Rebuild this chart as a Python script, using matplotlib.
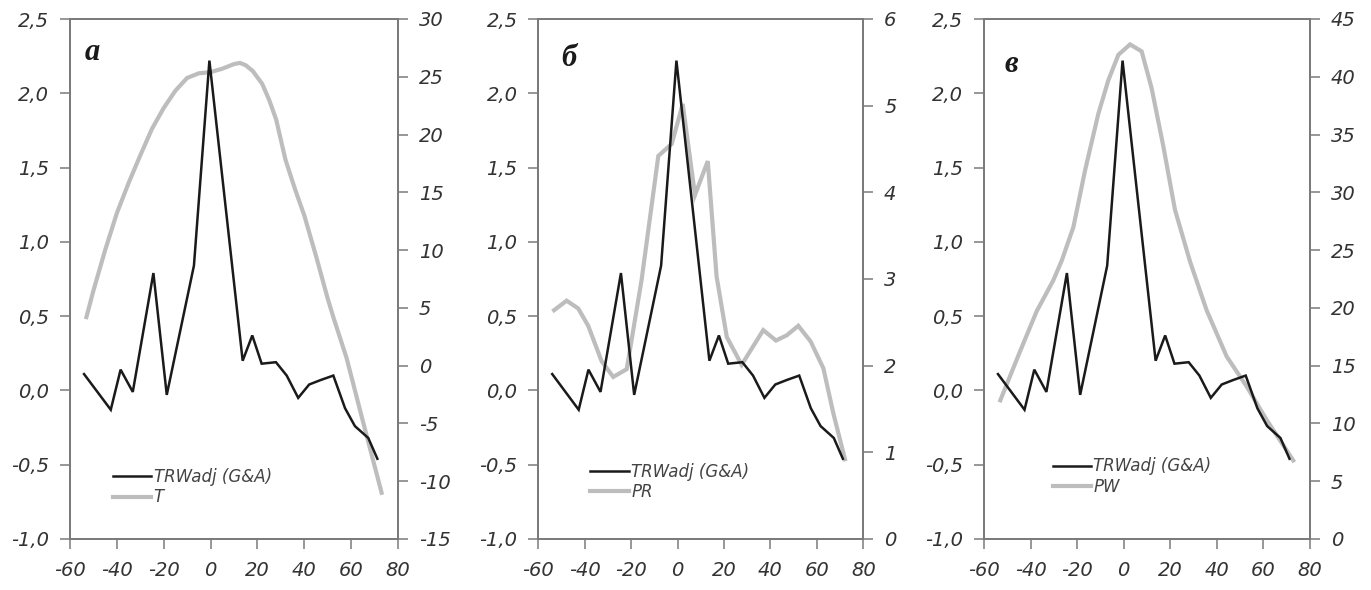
import matplotlib
matplotlib.use("Agg")
import matplotlib.pyplot as plt
from matplotlib.ticker import FuncFormatter, MultipleLocator

# ---- data ----
trw_lat = [-54, -42.6, -38.4, -33.2, -24.4, -18.7, -7.1, -0.5, 13.7, 17.8, 21.8,
           27.9, 32.5, 37.4, 42.1, 47, 52.4, 57.4, 61.6, 67.3, 71.2]
trw_val = [0.11, -0.13, 0.14, -0.01, 0.79, -0.03, 0.84, 2.22, 0.20, 0.37, 0.18,
           0.19, 0.10, -0.05, 0.04, 0.07, 0.10, -0.12, -0.24, -0.32, -0.46]

t_lat = [-53, -50, -45, -40, -35, -30, -25, -20, -15, -10, -5, 0, 5, 10, 12.5,
         15, 18, 22, 25, 28, 32, 36, 40, 45, 50, 52.4, 58, 65, 73]
t_val = [4.2, 6.5, 10.0, 13.2, 15.8, 18.2, 20.5, 22.3, 23.8, 24.9, 25.3, 25.4,
         25.7, 26.1, 26.2, 26.0, 25.5, 24.4, 23.0, 21.3, 17.8, 15.3, 13.0, 9.5,
         5.8, 4.2, 0.7, -4.8, -11.0]

pr_lat = [-53.2, -47.8, -42.8, -38.5, -32.7, -27.7, -21.9, -15.5, -8.3, -2.5,
          2.2, 7.5, 13.0, 16.8, 21.2, 22.6, 27.6, 36.9, 42.4, 47, 52.0, 57.3,
          62.8, 67.1, 72.1]
pr_val = [2.64, 2.75, 2.66, 2.46, 2.05, 1.87, 1.96, 2.99, 4.42, 4.56,
          5.02, 3.97, 4.36, 3.03, 2.33, 2.26, 2.01, 2.41, 2.29, 2.35, 2.46, 2.28,
          1.97, 1.45, 0.92]

pw_lat = [-53, -45, -37.4, -30.2, -26.6, -21.6, -16.6, -10.9, -6.6, -2.3, 2.7,
          7.7, 12.0, 17.0, 22.0, 28.5, 35.6, 44.2, 52.8, 61.4, 72.8]
pw_val = [12.0, 16.0, 19.7, 22.4, 24.1, 27.0, 31.9, 36.8, 39.7, 41.9, 42.8,
          42.2, 39.0, 34.0, 28.5, 24.0, 19.8, 15.8, 13.2, 10.3, 6.8]

panel_letters = ["а", "б", "в"]
right_labels = ["T", "PR", "PW"]
trw_label = "TRWadj (G&A)"

right_lims = [(-15, 30, 5), (0, 6, 1), (0, 45, 5)]
xticks = [-60, -40, -20, 0, 20, 40, 60, 80]

# ---- style ----
FONT = "DejaVu Sans"
TICKC = "#333333"
SPINEC = "#7a7a7a"
GRAY = "#bdbdbd"
BLACK = "#1a1a1a"
FS = 14

fig = plt.figure(figsize=(13.71, 5.90), dpi=100)
W, H = 1371, 590
boxes = [(70, 398), (538.3, 863.3), (984, 1310)]
top_px, bot_px = 19, 539

letter_pos = [(0.067, 0.935), (0.095, 0.925), (0.083, 0.912)]
legend_pos = [(0.11, 0.05), (0.14, 0.06), (0.19, 0.07)]

fmt_left = FuncFormatter(lambda v, p: f"{v:.1f}".replace(".", ",").replace("−", "-"))
fmt_right = FuncFormatter(lambda v, p: f"{int(round(v))}")

series = [(t_lat, t_val), (pr_lat, pr_val), (pw_lat, pw_val)]

for i in range(3):
    l, r = boxes[i]
    ax = fig.add_axes([l / W, 1 - bot_px / H, (r - l) / W, (bot_px - top_px) / H])
    ax2 = ax.twinx()
    ax.set_zorder(ax2.get_zorder() + 1)
    ax.patch.set_visible(False)

    glat, gval = series[i]
    hg, = ax2.plot(glat, gval, color=GRAY, lw=3.0, solid_joinstyle="miter",
                   label=right_labels[i])
    hb, = ax.plot(trw_lat, trw_val, color=BLACK, lw=1.8, solid_joinstyle="miter",
                  label=trw_label)

    ax.set_xlim(-60, 80)
    ax.set_ylim(-1.0, 2.5)
    ax.set_xticks(xticks)
    ax.yaxis.set_major_locator(MultipleLocator(0.5))
    ax.yaxis.set_major_formatter(fmt_left)
    ax.xaxis.set_major_formatter(FuncFormatter(lambda v, p: f"{int(v)}"))
    lo, hi, st = right_lims[i]
    ax2.set_ylim(lo, hi)
    ax2.yaxis.set_major_locator(MultipleLocator(st))
    ax2.yaxis.set_major_formatter(fmt_right)

    for a in (ax, ax2):
        for s in a.spines.values():
            s.set_color(SPINEC)
            s.set_linewidth(1.3)
        a.tick_params(direction="out", length=7, width=1.1, color=SPINEC,
                      labelsize=FS, labelcolor=TICKC)
        a.tick_params(axis="y", pad=8)
        a.tick_params(axis="x", pad=9)
        for lab in a.get_xticklabels() + a.get_yticklabels():
            lab.set_fontstyle("italic")
            lab.set_family(FONT)

    ax.text(letter_pos[i][0], letter_pos[i][1], panel_letters[i],
            transform=ax.transAxes, ha="center", va="center",
            family="Liberation Serif", fontstyle="italic", fontweight="bold",
            fontsize=22, color=BLACK)

    leg = ax.legend([hb, hg], [trw_label, right_labels[i]], loc="lower left",
                    bbox_to_anchor=legend_pos[i], frameon=False,
                    handlelength=2.3, handletextpad=0.15, labelspacing=0.15,
                    borderaxespad=0.0,
                    prop={"family": FONT, "style": "italic", "size": 12})
    for t in leg.get_texts():
        t.set_color("#444444")

fig.savefig("out.png", dpi=100)
